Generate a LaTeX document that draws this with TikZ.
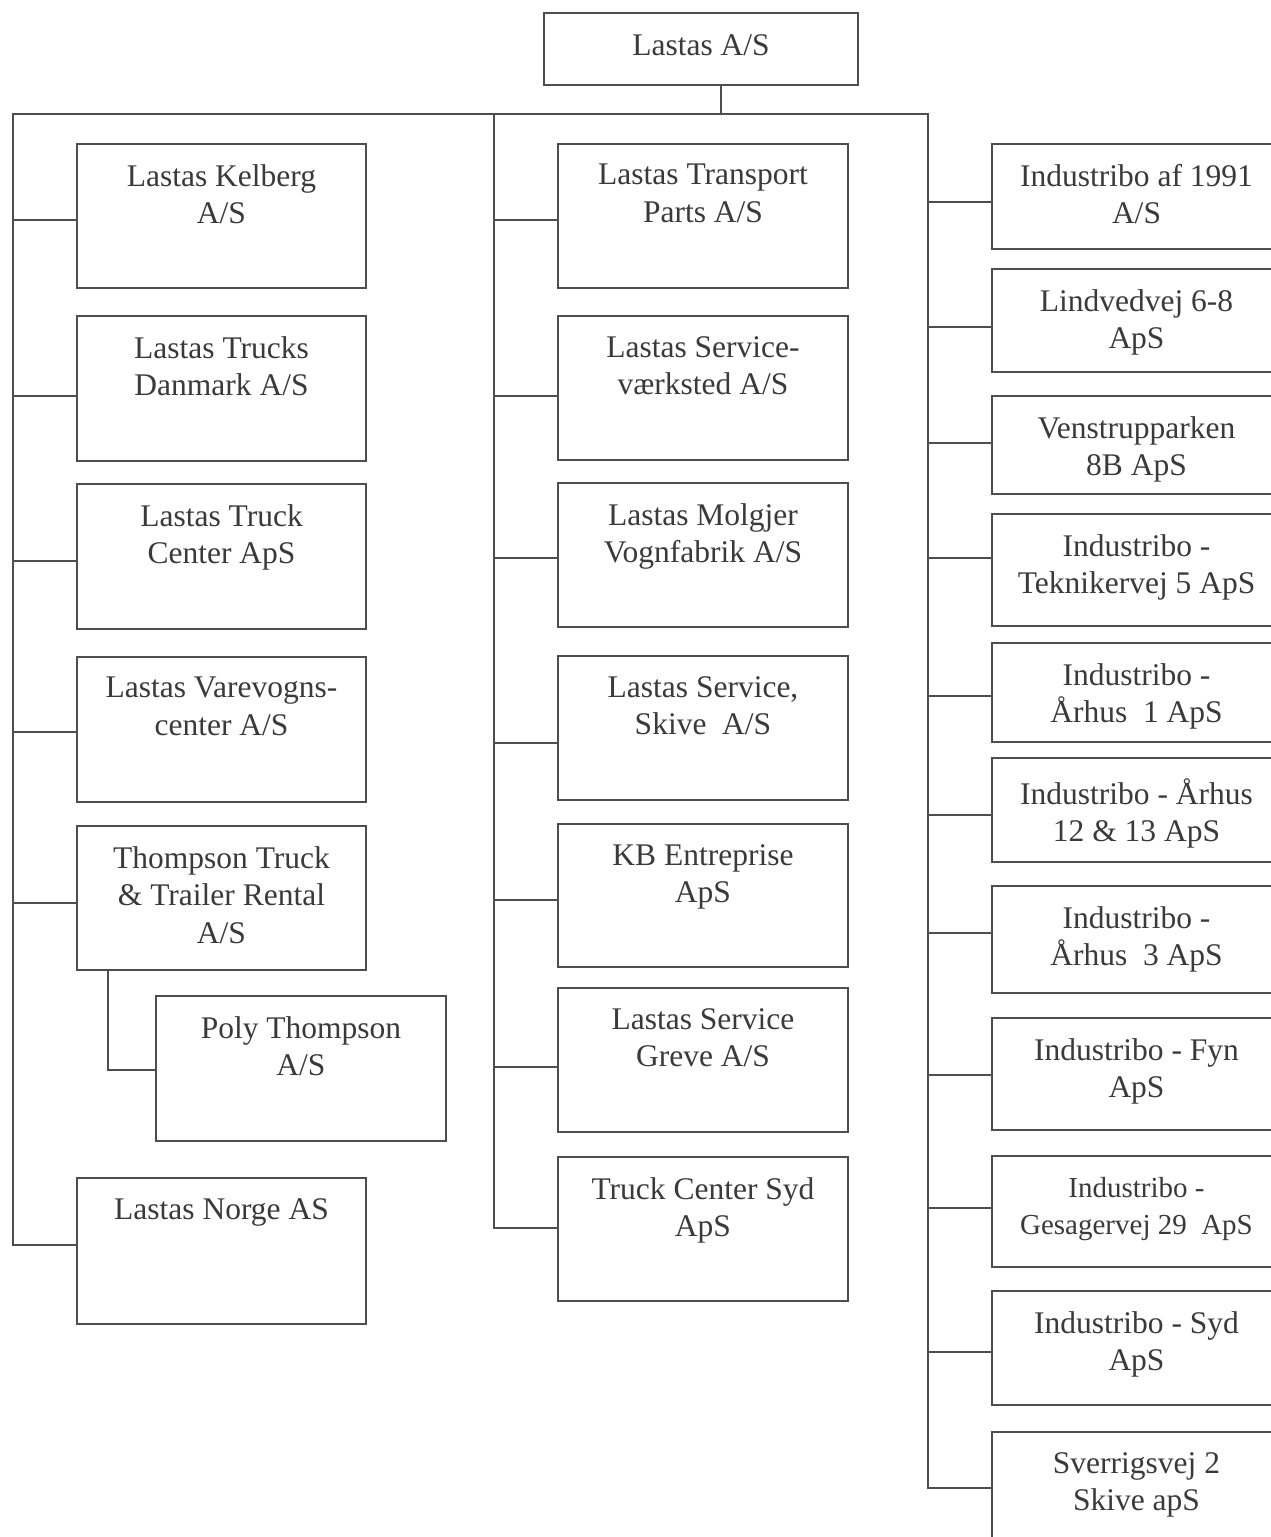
\documentclass[tikz,border=0pt]{standalone}
\usepackage{fontspec}
\setmainfont{Liberation Serif}
\usetikzlibrary{calc}
\definecolor{linegray}{RGB}{78,78,78}
\definecolor{textgray}{RGB}{58,58,58}
\begin{document}
\begin{tikzpicture}[x=1pt,y=-1pt,
  box/.style={draw=linegray, line width=2pt, rectangle, inner sep=0pt, anchor=north west},
  lbox/.style={box, minimum width=289pt},
  mbox/.style={box, minimum width=290pt},
  rbox/.style={box, minimum width=289pt},
  txt/.style={align=center, inner sep=0pt, anchor=north, text=textgray, font=\fontsize{31.5}{37.5}\selectfont},
  stxt/.style={txt, font=\fontsize{29}{37.5}\selectfont},
  conn/.style={draw=linegray, line width=2pt, line cap=rect}]
\fill[white] (0,0) rectangle (1271,1537);
\useasboundingbox (0,0) rectangle (1271,1537);

% top
\node[box, minimum width=314pt, minimum height=72pt] (top) at (543,12) {};
\node[txt] (topt) at ([yshift=-22]top.north) {Lastas A/S};

\coordinate (busL) at (13,114);
\coordinate (busM) at (494,114);
\coordinate (busR) at (928,114);
\draw[conn] (busL) -- (busR);
\draw[conn] ([xshift=20]top.south) -- ([xshift=20]top.south |- busL);

% left column
\node[lbox, minimum height=144pt] (k1) at (76,143) {};
\node[lbox, minimum height=145pt] (k2) at (76,315) {};
\node[lbox, minimum height=145pt] (k3) at (76,483) {};
\node[lbox, minimum height=145pt] (k4) at (76,656) {};
\node[lbox, minimum height=144pt] (k5) at (76,825) {};
\node[box, minimum width=290pt, minimum height=145pt] (poly) at (155,995) {};
\node[lbox, minimum height=146pt] (k7) at (76,1177) {};
\node[txt] (k1t) at ([yshift=-21]k1.north) {Lastas Kelberg\\A/S};
\node[txt] (k2t) at ([yshift=-21]k2.north) {Lastas Trucks\\Danmark A/S};
\node[txt] (k3t) at ([yshift=-21]k3.north) {Lastas Truck\\Center ApS};
\node[txt] (k4t) at ([yshift=-21]k4.north) {Lastas Varevogns-\\center A/S};
\node[txt] (k5t) at ([yshift=-21]k5.north) {Thompson Truck\\\& Trailer Rental\\A/S};
\node[txt] (polyt) at ([yshift=-21]poly.north) {Poly Thompson\\A/S};
\node[txt] (k7t) at ([yshift=-21]k7.north) {Lastas Norge AS};
\draw[conn] ([yshift=-77]k1.north west) -| (busL);
\draw[conn] ([yshift=-81]k2.north west) -| (busL);
\draw[conn] ([yshift=-78]k3.north west) -| (busL);
\draw[conn] ([yshift=-76]k4.north west) -| (busL);
\draw[conn] ([yshift=-78]k5.north west) -| (busL);
\draw[conn] ([yshift=-68]k7.north west) -| (busL);
\draw[conn] ([xshift=32]k5.south west) |- ([yshift=-75]poly.north west);

% middle column
\node[mbox, minimum height=144pt] (m1) at (557,143) {};
\node[mbox, minimum height=144pt] (m2) at (557,315) {};
\node[mbox, minimum height=144pt] (m3) at (557,482) {};
\node[mbox, minimum height=144pt] (m4) at (557,655) {};
\node[mbox, minimum height=143pt] (m5) at (557,823) {};
\node[mbox, minimum height=144pt] (m6) at (557,987) {};
\node[mbox, minimum height=144pt] (m7) at (557,1156) {};
\node[txt] (m1t) at ([yshift=-21]m1.north) {Lastas Transport\\Parts A/S};
\node[txt] (m2t) at ([yshift=-21]m2.north) {Lastas Service-\\værksted A/S};
\node[txt] (m3t) at ([yshift=-21]m3.north) {Lastas Molgjer\\Vognfabrik A/S};
\node[txt] (m4t) at ([yshift=-21]m4.north) {Lastas Service,\\Skive\ \ A/S};
\node[txt] (m5t) at ([yshift=-21]m5.north) {KB Entreprise\\ApS};
\node[txt] (m6t) at ([yshift=-21]m6.north) {Lastas Service\\Greve A/S};
\node[txt] (m7t) at ([yshift=-21]m7.north) {Truck Center Syd\\ApS};
\draw[conn] ([yshift=-77]m1.north west) -| (busM);
\draw[conn] ([yshift=-81]m2.north west) -| (busM);
\draw[conn] ([yshift=-76]m3.north west) -| (busM);
\draw[conn] ([yshift=-88]m4.north west) -| (busM);
\draw[conn] ([yshift=-77]m5.north west) -| (busM);
\draw[conn] ([yshift=-80]m6.north west) -| (busM);
\draw[conn] ([yshift=-72]m7.north west) -| (busM);

% right column
\node[rbox, minimum height=105pt] (r1) at (991,143) {};
\node[rbox, minimum height=103pt] (r2) at (991,268) {};
\node[rbox, minimum height=98pt] (r3) at (991,395) {};
\node[rbox, minimum height=112pt] (r4) at (991,513) {};
\node[rbox, minimum height=99pt] (r5) at (991,642) {};
\node[rbox, minimum height=104pt] (r6) at (991,757) {};
\node[rbox, minimum height=107pt] (r7) at (991,885) {};
\node[rbox, minimum height=112pt] (r8) at (991,1017) {};
\node[rbox, minimum height=111pt] (r9) at (991,1155) {};
\node[rbox, minimum height=114pt] (r10) at (991,1290) {};
\node[rbox, minimum height=130pt] (r11) at (991,1431) {};
\node[txt] (r1t) at ([yshift=-21]r1.north) {Industribo af 1991\\A/S};
\node[txt] (r2t) at ([yshift=-21]r2.north) {Lindvedvej 6-8\\ApS};
\node[txt] (r3t) at ([yshift=-21]r3.north) {Venstrupparken\\8B ApS};
\node[txt] (r4t) at ([yshift=-21]r4.north) {Industribo -\\Teknikervej 5 ApS};
\node[txt] (r5t) at ([yshift=-21]r5.north) {Industribo -\\Århus\ \ 1 ApS};
\node[txt] (r6t) at ([yshift=-21]r6.north) {Industribo - Århus\\12 \& 13 ApS};
\node[txt] (r7t) at ([yshift=-21]r7.north) {Industribo -\\Århus\ \ 3 ApS};
\node[txt] (r8t) at ([yshift=-21]r8.north) {Industribo - Fyn\\ApS};
\node[stxt] (r9t) at ([yshift=-22]r9.north) {Industribo -\\Gesagervej 29\ \ ApS};
\node[txt] (r10t) at ([yshift=-21]r10.north) {Industribo - Syd\\ApS};
\node[txt] (r11t) at ([yshift=-21]r11.north) {Sverrigsvej 2\\Skive apS};
\draw[conn] ([yshift=-59]r1.north west) -| (busR);
\draw[conn] ([yshift=-59]r2.north west) -| (busR);
\draw[conn] ([yshift=-48]r3.north west) -| (busR);
\draw[conn] ([yshift=-45]r4.north west) -| (busR);
\draw[conn] ([yshift=-54]r5.north west) -| (busR);
\draw[conn] ([yshift=-58]r6.north west) -| (busR);
\draw[conn] ([yshift=-48]r7.north west) -| (busR);
\draw[conn] ([yshift=-58]r8.north west) -| (busR);
\draw[conn] ([yshift=-53]r9.north west) -| (busR);
\draw[conn] ([yshift=-62]r10.north west) -| (busR);
\draw[conn] ([yshift=-57]r11.north west) -| (busR);
\end{tikzpicture}
\end{document}
